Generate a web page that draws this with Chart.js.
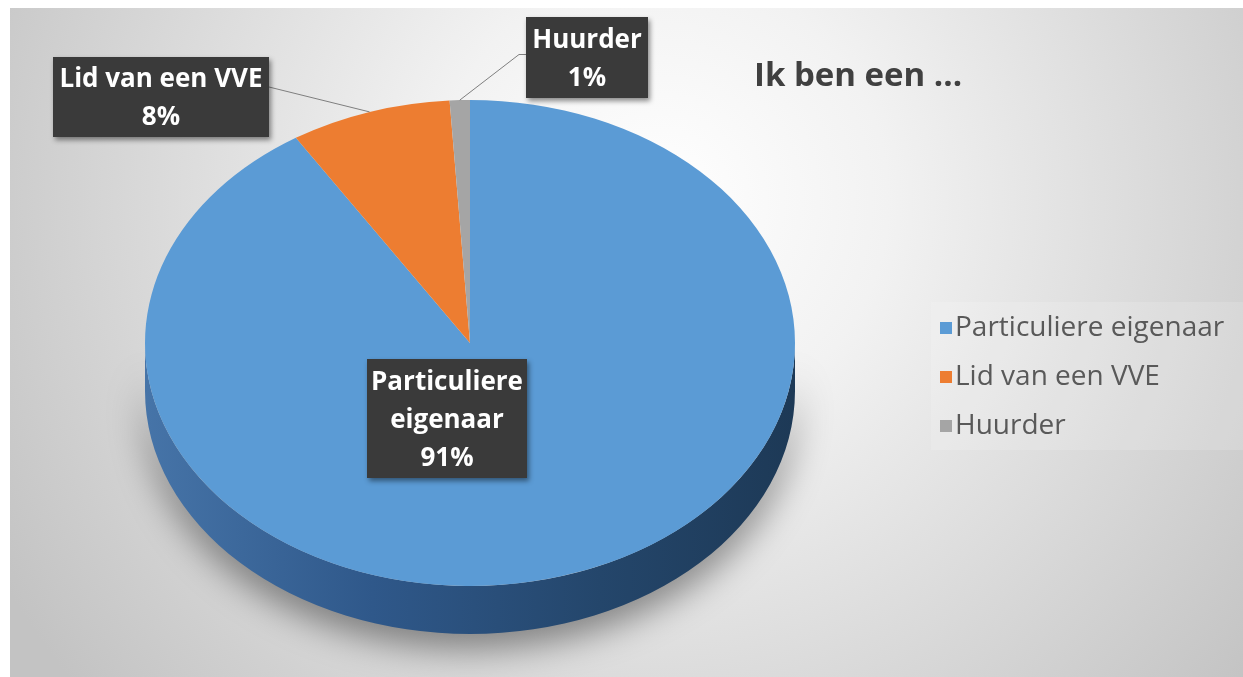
<!DOCTYPE html>
<html>
<head>
<meta charset="utf-8">
<script src="https://cdn.jsdelivr.net/npm/chart.js@4"></script>
<style>
  html, body { margin: 0; padding: 0; background: #fff; }
  canvas { display: block; }
</style>
</head>
<body>
<canvas id="pie-graph" width="1243" height="677"></canvas>
<script>
const ctx = document.getElementById('pie-graph');
const categories = ['Particuliere eigenaar', 'Lid van een VVE', 'Huurder'];
const shares = [91, 8, 1];
const sliceColors = ['#5b9bd5', '#ed7d31', '#a5a5a5'];
const titleText = 'Ik ben een ...';

const tilt = 243 / 325;   // vertical squash of the pie
const depth = 48;         // thickness of the 3d side

// label boxes (x, y, w, h) and which side the leader line leaves from
const labelBoxes = [
  { box: [367, 359, 160, 119], line: null },
  { box: [53, 57, 216, 80], line: 'right' },
  { box: [526, 17, 122, 81], line: 'left' }
];

function visibleParts(s, e) {
  // front half of the pie is angles 0..PI (+ k*2PI)
  const parts = [];
  for (let k = -1; k <= 1; k++) {
    const a0 = Math.max(s, k * 2 * Math.PI);
    const a1 = Math.min(e, k * 2 * Math.PI + Math.PI);
    if (a1 > a0) parts.push([a0, a1]);
  }
  return parts;
}

const pie3d = {
  id: 'pie3d',
  beforeDraw(chart) {
    const c = chart.ctx;
    c.save();
    c.fillStyle = '#fff';
    c.fillRect(0, 0, chart.width, chart.height);
    const g = c.createRadialGradient(660, 200, 0, 660, 200, 760);
    g.addColorStop(0, '#ffffff');
    g.addColorStop(0.3, '#f2f2f2');
    g.addColorStop(1, '#c3c3c3');
    c.fillStyle = g;
    c.fillRect(10, 8, chart.width - 10, chart.height - 8);
    c.restore();
  },
  beforeDatasetsDraw(chart) {
    const c = chart.ctx;
    const arcs = chart.getDatasetMeta(0).data;
    const { x, y, outerRadius: r } = arcs[0];
    c.save();
    const side = c.createLinearGradient(x - r, 0, x + r, 0);
    side.addColorStop(0, '#4674a8');
    side.addColorStop(0.35, '#2f588a');
    side.addColorStop(0.7, '#24466b');
    side.addColorStop(1, '#1d3956');
    c.shadowColor = 'rgba(0,0,0,0.45)';
    c.shadowBlur = 36;
    c.shadowOffsetY = 14;
    arcs.forEach((arc, i) => {
      visibleParts(arc.startAngle, arc.endAngle).forEach(([a0, a1]) => {
        c.beginPath();
        c.ellipse(x, y, r, r * tilt, 0, a0, a1);
        c.ellipse(x, y + depth, r, r * tilt, 0, a1, a0, true);
        c.closePath();
        c.fillStyle = i === 0 ? side : sliceColors[i];
        c.fill();
      });
    });
    c.restore();
    c.save();
    c.translate(x, y);
    c.scale(1, tilt);
    c.translate(-x, -y);
  },
  afterDatasetsDraw(chart) {
    const c = chart.ctx;
    c.restore();
    const arcs = chart.getDatasetMeta(0).data;
    const { x, y, outerRadius: r } = arcs[0];

    // data labels
    labelBoxes.forEach((lb, i) => {
      const [bx, by, bw, bh] = lb.box;
      if (lb.line) {
        const arc = arcs[i];
        const mid = (arc.startAngle + arc.endAngle) / 2;
        const px = x + r * Math.cos(mid);
        const py = y + r * tilt * Math.sin(mid);
        c.save();
        c.strokeStyle = '#7f7f7f';
        c.lineWidth = 1;
        c.beginPath();
        if (lb.line === 'right') {
          c.moveTo(bx + bw, by + bh / 2 - 10);
        } else {
          c.moveTo(bx, by + bh / 2 - 3);
          c.lineTo(bx - 7, by + bh / 2 - 3);
        }
        c.lineTo(px, py);
        c.stroke();
        c.restore();
      }
      c.save();
      c.shadowColor = 'rgba(0,0,0,0.45)';
      c.shadowBlur = 5;
      c.shadowOffsetX = 2;
      c.shadowOffsetY = 3;
      c.fillStyle = '#3a3a3a';
      c.fillRect(bx, by, bw, bh);
      c.restore();
      const lines = (i === 0 ? ['Particuliere', 'eigenaar'] : [categories[i]])
        .concat([shares[i] + '%']);
      c.save();
      c.fillStyle = '#ffffff';
      c.font = 'bold 26px "Open Sans"';
      c.textAlign = 'center';
      c.textBaseline = 'middle';
      const lh = 38;
      const top = by + bh / 2 - (lines.length - 1) * lh / 2 + 2;
      lines.forEach((t, k) => c.fillText(t, bx + bw / 2, top + k * lh));
      c.restore();
    });

    // title
    c.save();
    c.fillStyle = '#404040';
    c.font = 'bold 33px "Open Sans"';
    c.textBaseline = 'alphabetic';
    c.fillText(titleText, 754, 86);
    c.restore();

    // legend
    c.save();
    c.fillStyle = 'rgba(255,255,255,0.15)';
    c.fillRect(931, 302, 312, 148);
    c.font = '28px "Open Sans"';
    c.textBaseline = 'middle';
    categories.forEach((name, i) => {
      const ly = 328 + i * 49;
      c.fillStyle = sliceColors[i];
      c.fillRect(940, ly - 6, 12, 12);
      c.fillStyle = '#595959';
      c.fillText(name, 955, ly);
    });
    c.restore();
  }
};

new Chart(ctx, {
  type: 'pie',
  data: {
    labels: categories,
    datasets: [{
      data: shares,
      backgroundColor: sliceColors,
      borderWidth: 0
    }]
  },
  options: {
    responsive: false,
    animation: false,
    layout: { padding: { left: 145, right: 448, top: 18, bottom: 9 } },
    plugins: {
      legend: { display: false },
      tooltip: { enabled: false }
    }
  },
  plugins: [pie3d]
});
</script>
</body>
</html>
